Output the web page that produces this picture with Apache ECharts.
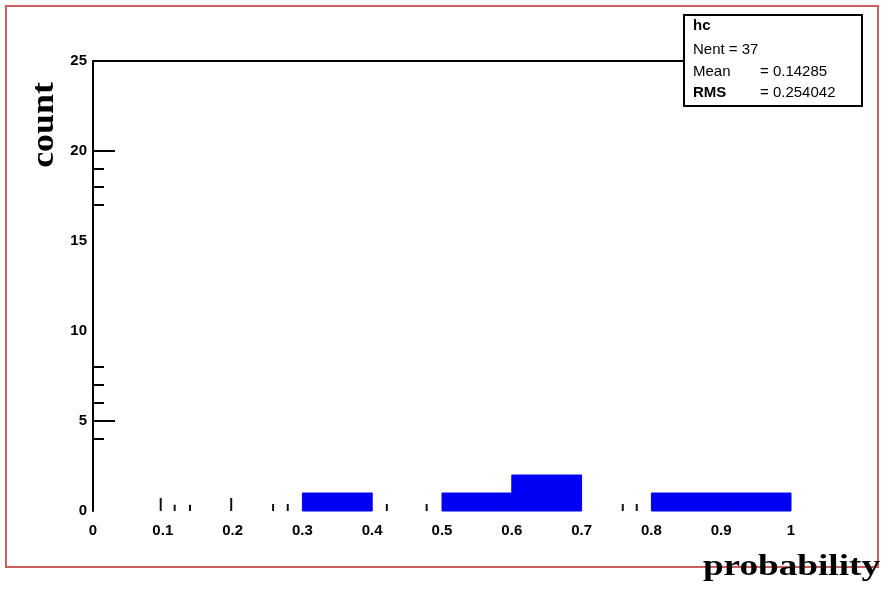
<!DOCTYPE html>
<html>
<head>
<meta charset="utf-8">
<script src="https://cdn.jsdelivr.net/npm/echarts@6/dist/echarts.min.js"></script>
<style>html,body{margin:0;padding:0;background:#fff}#c{width:889px;height:596px}</style>
</head>
<body>
<div id="c"></div>
<script>
// Histogram bin edges and counts
var binEdges = [0, 0.1, 0.2, 0.3, 0.4, 0.5, 0.6, 0.7, 0.8, 0.9, 1.0];
var binCounts = [0, 0, 0, 1, 0, 1, 2, 0, 1, 1];
// small vertical marks along the bottom (x position, length in count units)
var markX = [0.097, 0.117, 0.139, 0.198, 0.258, 0.279, 0.421, 0.478, 0.759, 0.779];
var markLen = [0.72, 0.35, 0.35, 0.72, 0.39, 0.39, 0.39, 0.39, 0.39, 0.39];
// axis tick labels and the y tick marks visible in the picture
var xTickLabels = ['0', '0.1', '0.2', '0.3', '0.4', '0.5', '0.6', '0.7', '0.8', '0.9', '1'];
var yTickLabels = ['0', '5', '10', '15', '20', '25'];
var yMajorTicks = [5, 20, 25];
var yMinorTicks = [4, 6, 7, 8, 17, 18, 19];
// stats box
var statsTitle = 'hc';
var statsNames = ['Nent', 'Mean', 'RMS'];
var statsValues = ['37', '0.14285', '0.254042'];
var xTitle = 'probability';
var yTitle = 'count';

var histData = binCounts.map(function (c, i) { return [binEdges[i], binEdges[i + 1], c]; });
var markData = markX.map(function (x, i) { return [x, markLen[i]]; });
var tickData = yMajorTicks.map(function (v) { return [v, 1]; })
  .concat(yMinorTicks.map(function (v) { return [v, 0]; }));

var chart = echarts.init(document.getElementById('c'), null, { renderer: 'canvas' });
var labelFont = { fontFamily: 'Liberation Sans', fontWeight: 'bold', fontSize: 15, color: '#000' };

var option = {
  animation: false,
  backgroundColor: '#fff',
  grid: { left: 93, right: 98, top: 61, bottom: 85, containLabel: false },
  xAxis: [{
    type: 'value', min: 0, max: 1, interval: 0.1,
    axisLine: { show: false }, axisTick: { show: false }, splitLine: { show: false },
    axisLabel: Object.assign({ margin: 12, formatter: function (v) { return xTickLabels[Math.round(v * 10)]; } }, labelFont)
  }, {
    type: 'value', min: 0, max: 1, position: 'top',
    axisLine: { show: true, onZero: false, lineStyle: { color: '#000', width: 2 } },
    axisTick: { show: false }, axisLabel: { show: false }, splitLine: { show: false }
  }],
  yAxis: {
    type: 'value', min: 0, max: 25, interval: 5,
    axisLine: { show: true, lineStyle: { color: '#000', width: 2 } },
    axisTick: { show: false },
    splitLine: { show: false },
    axisLabel: Object.assign({ margin: 6, formatter: function (v) { return yTickLabels[Math.round(v / 5)]; } }, labelFont)
  },
  series: [{
    type: 'custom',
    data: histData,
    renderItem: function (params, api) {
      if (!(api.value(2) > 0)) return null;
      var p0 = api.coord([api.value(0), 0]);
      var p1 = api.coord([api.value(1), api.value(2)]);
      return {
        type: 'rect',
        shape: { x: p0[0], y: p1[1], width: p1[0] - p0[0], height: p0[1] - p1[1] },
        style: { fill: '#0000f4', stroke: '#0000f4', lineWidth: 1 }
      };
    }
  }, {
    type: 'custom',
    data: markData,
    renderItem: function (params, api) {
      var p0 = api.coord([api.value(0), 0]);
      var p1 = api.coord([api.value(0), api.value(1)]);
      return {
        type: 'line',
        shape: { x1: p0[0], y1: p0[1], x2: p1[0], y2: p1[1] },
        style: { stroke: '#111', lineWidth: 2 }
      };
    }
  }, {
    type: 'custom',
    data: tickData,
    renderItem: function (params, api) {
      var p = api.coord([0, api.value(0)]);
      var len = api.value(1) ? 22 : 11;
      return {
        type: 'line',
        shape: { x1: p[0], y1: p[1], x2: p[0] + len, y2: p[1] },
        style: { stroke: '#000', lineWidth: 2 }
      };
    }
  }],
  graphic: [
    { type: 'rect', z: 100, shape: { x: 6, y: 6, width: 872, height: 561 },
      style: { fill: 'none', stroke: '#c86060', lineWidth: 2 } },
    { type: 'rect', z: 100, shape: { x: 684, y: 15, width: 178, height: 91 },
      style: { fill: '#fff', stroke: '#000', lineWidth: 2 } },
    { type: 'text', z: 101, x: 693, y: 26, style: { text: statsTitle, font: 'bold 15px "Liberation Sans"', fill: '#000', textVerticalAlign: 'middle' } },
    { type: 'text', z: 101, x: 693, y: 50, style: { text: statsNames[0] + ' = ' + statsValues[0], font: '15px "Liberation Sans"', fill: '#000', textVerticalAlign: 'middle' } },
    { type: 'text', z: 101, x: 693, y: 72, style: { text: statsNames[1], font: '15px "Liberation Sans"', fill: '#000', textVerticalAlign: 'middle' } },
    { type: 'text', z: 101, x: 760, y: 72, style: { text: '= ' + statsValues[1], font: '15px "Liberation Sans"', fill: '#000', textVerticalAlign: 'middle' } },
    { type: 'text', z: 101, x: 693, y: 93, style: { text: statsNames[2], font: 'bold 15px "Liberation Sans"', fill: '#000', textVerticalAlign: 'middle' } },
    { type: 'text', z: 101, x: 760, y: 93, style: { text: '= ' + statsValues[2], font: '15px "Liberation Sans"', fill: '#000', textVerticalAlign: 'middle' } },
    { type: 'text', z: 101, x: 880, y: 567, scaleX: 1.24,
      style: { text: xTitle, font: 'bold 30px "Liberation Serif"', fill: '#000', textAlign: 'right', textVerticalAlign: 'middle' } },
    { type: 'text', z: 101, x: 45, y: 125, rotation: Math.PI / 2, scaleX: 1.12,
      style: { text: yTitle, font: 'bold 32px "Liberation Serif"', fill: '#000', textAlign: 'center', textVerticalAlign: 'middle' } }
  ]
};
chart.setOption(option);
</script>
</body>
</html>
